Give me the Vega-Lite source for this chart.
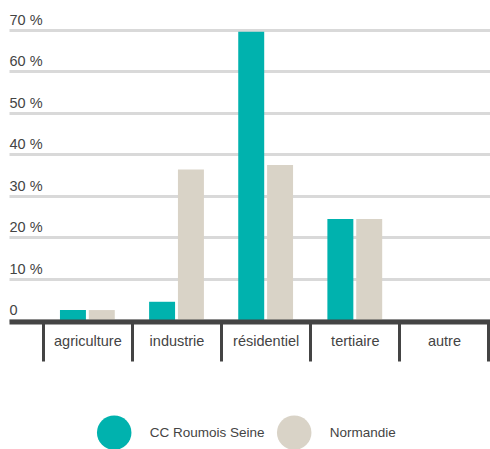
{
  "$schema": "https://vega.github.io/schema/vega-lite/v6.json",
  "autosize": "none",
  "width": 481,
  "height": 290,
  "padding": {"left": 9, "top": 30, "right": 0, "bottom": 129},
  "background": "white",
  "config": {
    "view": {"stroke": null},
    "font": "Liberation Sans"
  },
  "data": {
    "values": [
      {"secteur": "agriculture", "territoire": "CC Roumois Seine", "part": 2.4},
      {"secteur": "agriculture", "territoire": "Normandie", "part": 2.4},
      {"secteur": "industrie", "territoire": "CC Roumois Seine", "part": 4.4},
      {"secteur": "industrie", "territoire": "Normandie", "part": 36.3},
      {"secteur": "résidentiel", "territoire": "CC Roumois Seine", "part": 69.6},
      {"secteur": "résidentiel", "territoire": "Normandie", "part": 37.4},
      {"secteur": "tertiaire", "territoire": "CC Roumois Seine", "part": 24.4},
      {"secteur": "tertiaire", "territoire": "Normandie", "part": 24.4}
    ]
  },
  "mark": {"type": "bar"},
  "encoding": {
    "x": {
      "field": "secteur",
      "type": "nominal",
      "scale": {
        "domain": ["agriculture", "industrie", "résidentiel", "tertiaire", "autre"],
        "paddingInner": 0,
        "paddingOuter": 0.198,
        "align": 0.9575
      },
      "axis": {
        "title": null,
        "orient": "bottom",
        "zindex": 1,
        "grid": false,
        "domainColor": "#444444",
        "domainWidth": 5,
        "offset": 1.5,
        "tickBand": "extent",
        "tickColor": "#444444",
        "tickWidth": 3,
        "tickSize": 39.5,
        "labelAngle": 0,
        "labelFont": "Liberation Sans",
        "labelFontSize": 14.5,
        "labelColor": "#444444",
        "labelPadding": -15.5,
        "labelBaseline": "alphabetic"
      }
    },
    "xOffset": {
      "field": "territoire",
      "scale": {
        "domain": ["CC Roumois Seine", "Normandie"],
        "paddingInner": 0.1,
        "paddingOuter": 0.595
      }
    },
    "y": {
      "field": "part",
      "type": "quantitative",
      "scale": {"domain": [0, 70], "nice": false},
      "axis": {
        "title": null,
        "grid": true,
        "gridColor": "#d9d9d9",
        "gridWidth": 3,
        "domain": false,
        "ticks": false,
        "tickSize": 0,
        "values": [0, 10, 20, 30, 40, 50, 60, 70],
        "labelAlign": "left",
        "labelPadding": 0,
        "labelBaseline": "alphabetic",
        "labelOffset": -5.5,
        "labelFont": "Liberation Sans",
        "labelFontSize": 14.5,
        "labelColor": "#444444",
        "labelExpr": "datum.value == 0 ? '0' : datum.value + ' %'"
      }
    },
    "color": {
      "field": "territoire",
      "type": "nominal",
      "scale": {
        "domain": ["CC Roumois Seine", "Normandie"],
        "range": ["#00b2ae", "#d9d3c7"]
      },
      "legend": {
        "title": null,
        "orient": "none",
        "legendX": 87.7,
        "legendY": 385,
        "direction": "horizontal",
        "symbolType": "circle",
        "symbolSize": 1190,
        "symbolStrokeWidth": 0,
        "symbolOpacity": 1,
        "labelFont": "Liberation Sans",
        "labelFontSize": 13.5,
        "labelColor": "#444444",
        "labelOffset": 18,
        "columnPadding": 12
      }
    }
  }
}
